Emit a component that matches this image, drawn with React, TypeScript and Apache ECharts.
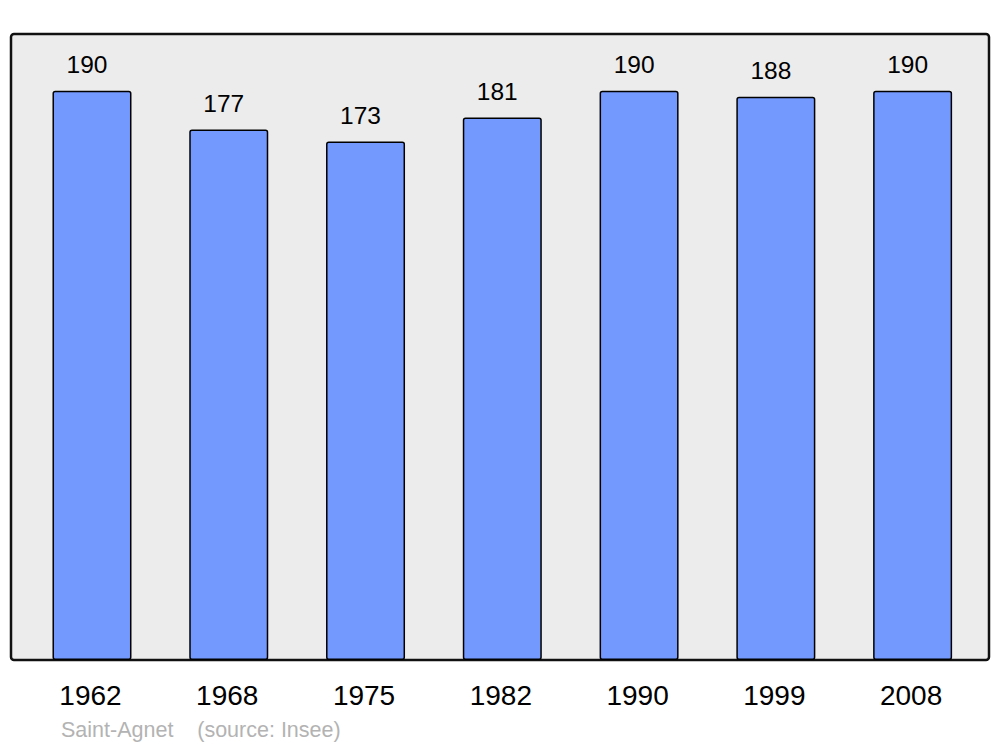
import React, { useEffect, useRef } from "react";
import * as echarts from "echarts";

const years = ["1962", "1968", "1975", "1982", "1990", "1999", "2008"];
const population = [190, 177, 173, 181, 190, 188, 190];
const footerName = "Saint-Agnet";
const footerSource = "(source: Insee)";

export default function App() {
  const ref = useRef<HTMLDivElement>(null);
  useEffect(() => {
    if (!ref.current) return;
    const chart = echarts.init(ref.current, null, { renderer: "svg" });
    chart.setOption({
      animation: false,
      backgroundColor: "#ffffff",
      textStyle: { fontFamily: "Liberation Sans, Arial, sans-serif" },
      grid: { left: 23.6, right: 19, top: 34, bottom: 87 },
      xAxis: {
        type: "category",
        data: years,
        boundaryGap: true,
        axisLine: { show: false },
        axisTick: { show: false },
        axisLabel: {
          color: "#000",
          fontSize: 28,
          margin: 21,
          padding: [0, 3, 0, 0],
          fontFamily: "Liberation Sans, Arial, sans-serif",
        },
      },
      yAxis: {
        type: "value",
        min: 0,
        max: 208.9,
        show: false,
        splitLine: { show: false },
      },
      graphic: [
        {
          type: "rect",
          z: 0,
          shape: { x: 11, y: 34, width: 978, height: 626, r: 3 },
          style: { fill: "#ececec", stroke: "#111", lineWidth: 2.5 },
        },
        {
          type: "text",
          z: 5,
          left: 61,
          top: 719,
          style: {
            text: footerName + "    " + footerSource,
            fill: "#b3b3b3",
            fontSize: 21.5,
            fontFamily: "Liberation Sans, Arial, sans-serif",
          },
        },
      ],
      series: [
        {
          type: "bar",
          z: 3,
          data: population,
          barWidth: 79,
          itemStyle: {
            color: "#7399ff",
            borderColor: "#000",
            borderWidth: 1.5,
            borderRadius: 2,
          },
          label: {
            show: true,
            position: "top",
            distance: 14,
            offset: [-5, 0],
            color: "#000",
            fontSize: 24.5,
            fontFamily: "Liberation Sans, Arial, sans-serif",
          },
        },
      ],
    });
    return () => chart.dispose();
  }, []);
  return <div ref={ref} style={{ width: 1000, height: 747, position: "absolute", left: 0, top: 0 }} />;
}
